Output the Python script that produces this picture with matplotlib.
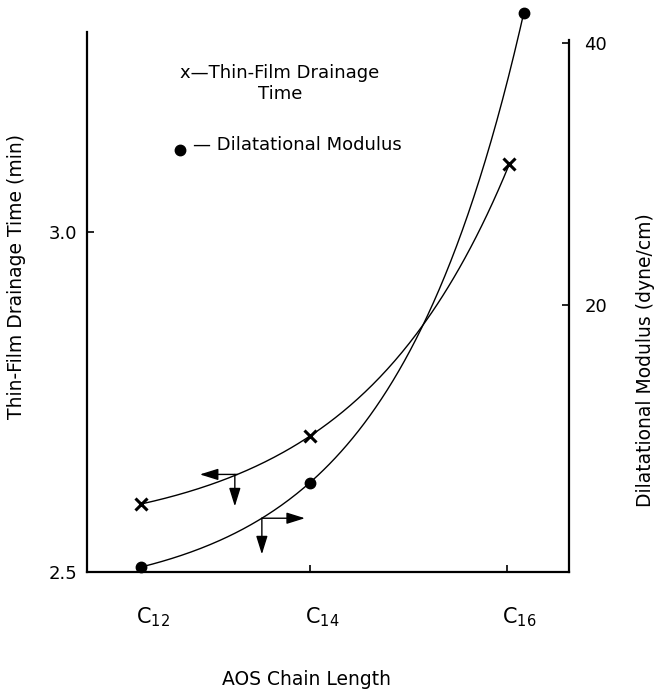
import numpy as np
import matplotlib
matplotlib.use("Agg")
import matplotlib.pyplot as plt
import matplotlib.transforms as mtransforms

plt.rcParams['font.family'] = ['DejaVu Sans']
plt.rcParams['mathtext.default'] = 'regular'

# chain length positions
chain_ticks = [12.0, 14.0, 16.33]
chain_labels = ['C$_{12}$', 'C$_{14}$', 'C$_{16}$']

# thin-film drainage time (min), left axis, "x" markers
drain_x = [12.0, 14.0, 16.36]
drain_time = [2.60, 2.70, 3.10]

# dilatational modulus (dyne/cm), right axis, dots
mod_x = [12.0, 14.0, 16.53]
modulus = [0.0, 6.45, 42.3]

# where the direction arrows sit on each curve
arrow_x_time = 13.14
arrow_x_mod = 13.43


def exp_curve(x, y):
    # smooth y = a + b*exp(c*(x-x0)) passing through the three points
    x = np.asarray(x, float)
    y = np.asarray(y, float)
    u = x - x[0]
    target = (y[1] - y[0]) / (y[2] - y[0])
    lo, hi = 1e-4, 5.0
    for _ in range(80):
        c = 0.5 * (lo + hi)
        r = np.expm1(c * u[1]) / np.expm1(c * u[2])
        if r > target:
            lo = c
        else:
            hi = c
    b = (y[1] - y[0]) / np.expm1(c * u[1])
    a = y[0] - b
    return lambda xx: a + b * np.exp(c * (np.asarray(xx, float) - x[0]))


fig = plt.figure(figsize=(6.57, 6.93), dpi=100)
ax = fig.add_axes([0.1324, 0.1746, 0.7336, 0.7792])
ax2 = ax.twinx()

ax.set_xlim(11.36, 17.065)
ax.set_ylim(2.5, 3.294)
ax2.set_ylim(-0.38, 40.84)

# curves
f_time = exp_curve(drain_x, drain_time)
xs = np.linspace(drain_x[0], drain_x[-1], 200)
ax.plot(xs, f_time(xs), color='black', lw=1.0)
ax.plot(drain_x, drain_time, linestyle='none', marker='x', ms=8, mew=2.2,
        color='black', clip_on=False)

f_mod = exp_curve(mod_x, modulus)
xs2 = np.linspace(mod_x[0], mod_x[-1], 200)
ax2.plot(xs2, f_mod(xs2), color='black', lw=1.0, clip_on=False)
ax2.plot(mod_x, modulus, linestyle='none', marker='o', ms=7.5,
         color='black', clip_on=False)

# direction arrows
arw = dict(arrowstyle='<|-,head_length=0.8,head_width=0.25', color='black',
           lw=1.0, shrinkA=0, shrinkB=0, mutation_scale=14)
yj = float(f_time(arrow_x_time))
ax.annotate('', xy=(arrow_x_time, yj), xytext=(-27, 0),
            textcoords='offset points', arrowprops=arw)
ax.annotate('', xy=(arrow_x_time - 0.03, yj), xytext=(0, -23),
            textcoords='offset points', arrowprops=arw)
yj2 = float(f_mod(arrow_x_mod))
ax2.annotate('', xy=(arrow_x_mod, yj2), xytext=(31, 0),
             textcoords='offset points', arrowprops=arw)
ax2.annotate('', xy=(arrow_x_mod, yj2), xytext=(0, -26),
             textcoords='offset points', arrowprops=arw)

# spines
for s in ['top', 'right']:
    ax.spines[s].set_visible(False)
for s in ['top', 'left', 'bottom']:
    ax2.spines[s].set_visible(False)
ax.spines['left'].set_linewidth(1.6)
ax.spines['bottom'].set_linewidth(1.6)
ax2.spines['right'].set_linewidth(1.6)
ax2.spines['right'].set_bounds(-0.38, 40.2)

# ticks
ax.set_yticks([2.5, 3.0])
ax.set_yticklabels(['2.5', '3.0'])
ax.tick_params(axis='y', direction='in', length=5, width=1.2, pad=7,
               labelsize=13)
ax2.set_yticks([20, 40])
ax2.set_yticklabels(['20', '40'])
ax2.tick_params(axis='y', direction='in', length=5, width=1.2, pad=11,
                labelsize=13)
ax.set_xticks(chain_ticks)
ax.set_xticklabels(chain_labels)
ax.tick_params(axis='x', direction='in', length=5, width=1.2, pad=24,
               labelsize=15)
shift = mtransforms.ScaledTranslation(12 / 100, 0, fig.dpi_scale_trans)
for lab in ax.get_xticklabels():
    lab.set_transform(lab.get_transform() + shift)

# axis labels
ax.set_ylabel('Thin-Film Drainage Time (min)', fontsize=13.5)
ax.yaxis.set_label_coords(-70 / 482, 0.548)
ax.yaxis.label.set_va('center')
ax2.set_ylabel('Dilatational Modulus (dyne/cm)', fontsize=13.5, rotation=90)
ax2.yaxis.set_label_coords(1.158, 0.393)
ax2.yaxis.label.set_va('center')
ax.set_xlabel('AOS Chain Length', fontsize=13.5)
ax.xaxis.set_label_coords(0.456, -0.2)
ax.xaxis.label.set_va('center')

# in-plot key
ax.text(0.400, 0.905, 'x\u2014Thin-Film Drainage\nTime', transform=ax.transAxes,
        ha='center', va='center', multialignment='center', fontsize=13,
        linespacing=1.2)
ax.plot([0.193], [0.781], transform=ax.transAxes, marker='o', ms=7.5,
        color='black', linestyle='none', clip_on=False)
ax.text(0.219, 0.790, '\u2014 Dilatational Modulus', transform=ax.transAxes,
        ha='left', va='center', fontsize=13)

fig.savefig('out.png', dpi=100)
